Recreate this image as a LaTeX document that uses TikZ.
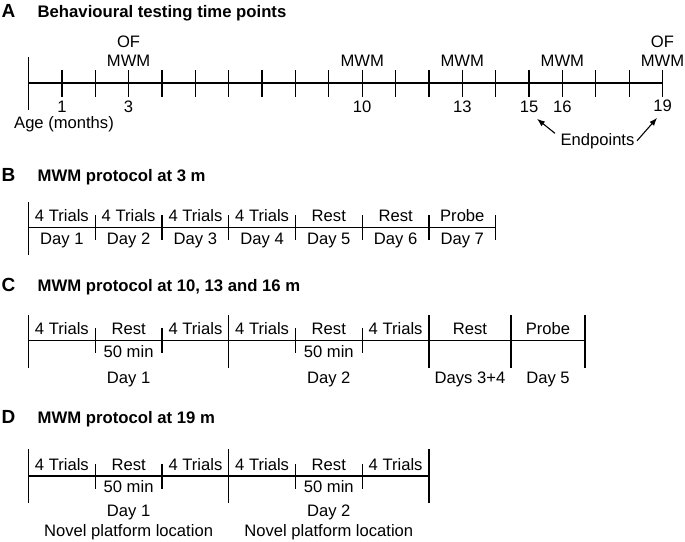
\documentclass[tikz,border=0pt]{standalone}
\usepackage{fontspec}
\setmainfont{Liberation Sans}
\usetikzlibrary{arrows.meta}

\begin{document}
\begin{tikzpicture}[x=1pt, y=-1pt, line width=1.3pt,
	every node/.style={inner sep=2pt, anchor=base, font=\fontsize{16.6}{19.5}\selectfont},
	letter/.style={anchor=base west, inner sep=0pt, font=\fontsize{19}{22}\selectfont\bfseries},
	heading/.style={anchor=base west, inner sep=0pt, font=\fontsize{16.7}{20}\selectfont\bfseries},
	daybar/.style={line width=2.2pt},
	pointer/.style={-{Latex[length=8pt,width=6pt]}, line width=1.1pt}]
		\useasboundingbox (0,0) rectangle (685,541);
		% A
		\node[letter] (la) at (1,17.3) {A};
		\node[heading] (ta) at (37,17.3) {Behavioural testing time points};
		\draw (28.5,57) -- (28.5,110);
		\draw (28.5,83) -- (662.5,83);
		\draw (61.9,70) -- (61.9,97) (95.2,70) -- (95.2,97) (128.6,70) -- (128.6,97) (162,70) -- (162,97)
			(195.4,70) -- (195.4,97) (228.7,70) -- (228.7,97) (262.1,70) -- (262.1,97) (295.5,70) -- (295.5,97)
			(328.8,70) -- (328.8,97) (362.2,70) -- (362.2,97) (395.6,70) -- (395.6,97) (428.9,70) -- (428.9,97)
			(462.3,70) -- (462.3,97) (495.7,70) -- (495.7,97) (529.1,70) -- (529.1,97) (562.4,70) -- (562.4,97)
			(595.8,70) -- (595.8,97) (629.2,70) -- (629.2,97) (662.5,70) -- (662.5,97);
		\node (of3) at (128.6,47) {OF};
		\node (mwm3) at (128.6,66) {MWM};
		\node (mwm10) at (362.2,66) {MWM};
		\node (mwm13) at (462.3,66) {MWM};
		\node (mwm16) at (562.4,66) {MWM};
		\node (of19) at (662.5,47) {OF};
		\node (mwm19) at (662.5,66) {MWM};
		\node (n1) at (61.9,112) {1};
		\node (n3) at (128.6,112) {3};
		\node (n10) at (362.2,112) {10};
		\node (n13) at (462.3,112) {13};
		\node (n15) at (529.1,112) {15};
		\node (n16) at (562.4,112) {16};
		\node (n19) at (662.5,111) {19};
		\node (age) at (64,128) {Age (months)};
		\node (endpts) at (597.5,145) {Endpoints};
		\draw[pointer] ([xshift=-3pt,yshift=-3pt]endpts.north west) -- ([xshift=-4pt,yshift=-4pt]n15.south east);
		\draw[pointer] (endpts.east) -- ([xshift=6.5pt,yshift=-4pt]n19.south west);
		% B
		\node[letter] (lb) at (1,181.5) {B};
		\node[heading] (tb) at (37,181.5) {MWM protocol at 3 m};
		\draw (28.5,202) -- (28.5,255);
		\draw (28.5,227.3) -- (495.7,227.3);
		\draw (95.2,215) -- (95.2,240) (162,215) -- (162,240) (228.7,215) -- (228.7,240) (295.5,215) -- (295.5,240)
			(362.2,215) -- (362.2,240) (428.9,215) -- (428.9,240) (495.7,215) -- (495.7,240);
		\node (b1) at (61.9,221.7) {4 Trials};
		\node (b2) at (128.6,221.7) {4 Trials};
		\node (b3) at (195.4,221.7) {4 Trials};
		\node (b4) at (262.1,221.7) {4 Trials};
		\node (b5) at (328.8,221.7) {Rest};
		\node (b6) at (395.6,221.7) {Rest};
		\node (b7) at (462.3,221.7) {Probe};
		\node (bd1) at (61.9,244) {Day 1};
		\node (bd2) at (128.6,244) {Day 2};
		\node (bd3) at (195.4,244) {Day 3};
		\node (bd4) at (262.1,244) {Day 4};
		\node (bd5) at (328.8,244) {Day 5};
		\node (bd6) at (395.6,244) {Day 6};
		\node (bd7) at (462.3,244) {Day 7};
		% C
		\node[letter] (lc) at (1,291.5) {C};
		\node[heading] (tc) at (37,291.5) {MWM protocol at 10, 13 and 16 m};
		\draw (28.5,340.7) -- (585,340.7);
		\draw (28.5,315) -- (28.5,368) (228.7,315) -- (228.7,368);
		\draw[daybar] (428.9,315) -- (428.9,368) (511,315) -- (511,368) (585,315) -- (585,368);
		\draw (95.2,328) -- (95.2,353) (162,328) -- (162,353) (295.5,328) -- (295.5,353) (362.2,328) -- (362.2,353);
		\node (c1) at (61.9,334) {4 Trials};
		\node (c2) at (128.6,334) {Rest};
		\node (c3) at (195.4,334) {4 Trials};
		\node (c4) at (262.1,334) {4 Trials};
		\node (c5) at (328.8,334) {Rest};
		\node (c6) at (395.6,334) {4 Trials};
		\node (c7) at (470,334) {Rest};
		\node (c8) at (548,334) {Probe};
		\node (cm1) at (128.6,357) {50 min};
		\node (cm2) at (328.8,357) {50 min};
		\node (cd1) at (128.6,383) {Day 1};
		\node (cd2) at (328.8,383) {Day 2};
		\node (cd3) at (470,383) {Days 3+4};
		\node (cd5) at (548,383) {Day 5};
		% D
		\node[letter] (ld) at (1,423.5) {D};
		\node[heading] (td) at (37,423.5) {MWM protocol at 19 m};
		\draw (28.5,476) -- (428.9,476);
		\draw (28.5,449) -- (28.5,503) (228.7,449) -- (228.7,503) (428.9,449) -- (428.9,503);
		\draw (95.2,464) -- (95.2,489) (162,464) -- (162,489) (295.5,464) -- (295.5,489) (362.2,464) -- (362.2,489);
		\node (d1) at (61.9,470) {4 Trials};
		\node (d2) at (128.6,470) {Rest};
		\node (d3) at (195.4,470) {4 Trials};
		\node (d4) at (262.1,470) {4 Trials};
		\node (d5) at (328.8,470) {Rest};
		\node (d6) at (395.6,470) {4 Trials};
		\node (dm1) at (128.6,492.5) {50 min};
		\node (dm2) at (328.8,492.5) {50 min};
		\node (dd1) at (128.6,516.7) {Day 1};
		\node (dd2) at (328.8,516.7) {Day 2};
		\node (dn1) at (128.6,536.7) {Novel platform location};
		\node (dn2) at (328.8,536.7) {Novel platform location};
	\end{tikzpicture}
\end{document}
